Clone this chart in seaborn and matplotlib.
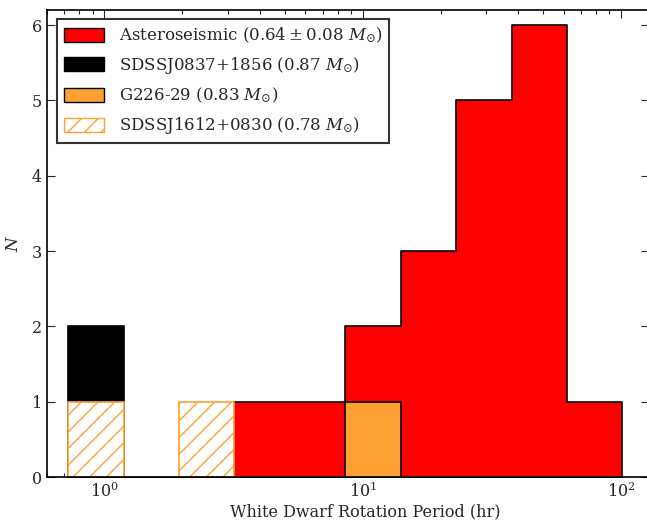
import numpy as np
import pandas as pd
import matplotlib
matplotlib.use("Agg")
import matplotlib.pyplot as plt
import seaborn as sns
from matplotlib.patches import Patch

# ---- data ----
bin_edges = np.logspace(np.log10(0.724), np.log10(101.0), 11)   # hr
astero_counts = [0, 0, 0, 1, 1, 2, 3, 5, 6, 1]
j0837_counts = [2, 0, 0, 0, 0, 0, 0, 0, 0, 0]
g226_counts = [0, 0, 0, 0, 0, 1, 0, 0, 0, 0]
j1612_counts = [1, 0, 1, 0, 0, 0, 0, 0, 0, 0]

labels = [r"Asteroseismic ($0.64\pm0.08\ M_{\odot}$)",
          r"SDSSJ0837+1856 ($0.87\ M_{\odot}$)",
          r"G226-29 ($0.83\ M_{\odot}$)",
          r"SDSSJ1612+0830 ($0.78\ M_{\odot}$)"]

RED = "#ff0000"
ORANGE = "#ffa033"

sns.set_style("ticks")
plt.rcParams["font.family"] = ["DejaVu Serif"]
plt.rcParams["mathtext.fontset"] = "dejavuserif"
plt.rcParams["hatch.linewidth"] = 1.0

fig = plt.figure(figsize=(6.47, 5.23), dpi=100)
ax = fig.add_axes([47 / 647, 46 / 523, 602 / 647, 467 / 523])

centers = np.sqrt(bin_edges[:-1] * bin_edges[1:])
log_bins = list(np.log10(bin_edges))

styles = [
    (astero_counts, dict(facecolor=RED, edgecolor="black", linewidth=1.2)),
    (g226_counts, dict(facecolor=ORANGE, edgecolor="black", linewidth=1.2)),
    (j0837_counts, dict(facecolor="black", edgecolor="black", linewidth=1.2)),
    (j1612_counts, dict(facecolor="white", edgecolor=ORANGE, linewidth=1.2, hatch="//")),
]
for counts, kw in styles:
    df = pd.DataFrame({"period": centers, "n": counts})
    sns.histplot(data=df, x="period", weights="n", bins=log_bins, log_scale=True,
                 element="step", fill=True, alpha=1, ax=ax, **kw)

ax.axhline(0, color=ORANGE, lw=1.0, zorder=0.5)

ax.set_xscale("log")
ax.set_xlim(0.6, 128)
ax.set_ylim(0, 6.2)
ax.set_yticks(range(0, 7))
ax.tick_params(which="both", direction="in", top=True, right=True, labelsize=11.5)
ax.tick_params(which="major", length=6, width=0.8)
ax.tick_params(which="minor", length=3, width=0.8)
for s in ax.spines.values():
    s.set_linewidth(1.2)
    s.set_color("black")

ax.set_xlabel("White Dwarf Rotation Period (hr)", fontsize=11.5)
ax.xaxis.set_label_coords((365 - 47) / 602, -0.056)
ax.set_ylabel(r"$N$", fontsize=12)
ax.yaxis.set_label_coords(-0.042, 0.5)

handles = [
    Patch(facecolor=RED, edgecolor="black", linewidth=1.0),
    Patch(facecolor="black", edgecolor="black", linewidth=1.0),
    Patch(facecolor=ORANGE, edgecolor="black", linewidth=1.0),
    Patch(facecolor="white", edgecolor=ORANGE, linewidth=1.0, hatch="//"),
]
leg = ax.legend(handles, labels, loc="upper left", fontsize=12, frameon=True,
                fancybox=False, edgecolor="#333333", framealpha=1,
                bbox_to_anchor=(10 / 602, 1 - 9 / 467), borderaxespad=0,
                handlelength=2.4, handleheight=0.9, handletextpad=0.9,
                labelspacing=0.6)
leg.get_frame().set_linewidth(1.5)

fig.savefig("out.png", dpi=100)
